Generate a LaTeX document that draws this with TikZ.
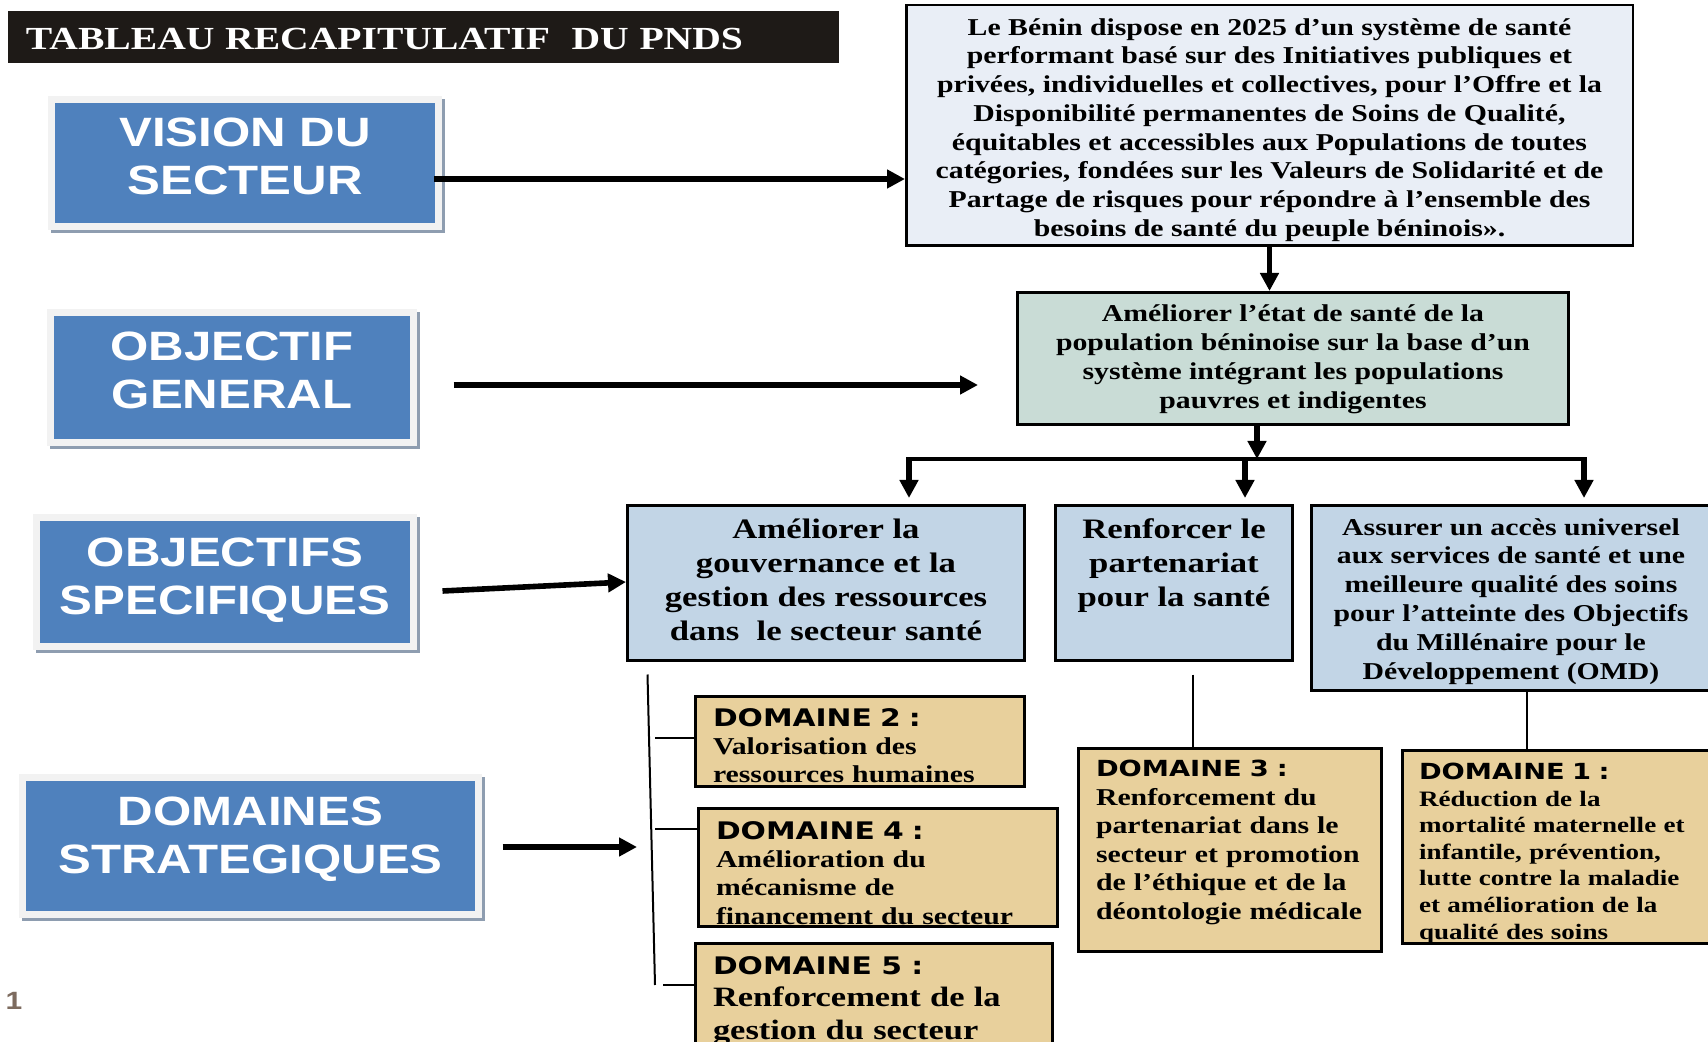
\documentclass[tikz,border=0pt]{standalone}
\usepackage{fontspec}
\usetikzlibrary{arrows.meta,calc,shadows}
\newfontfamily\txtfont{Liberation Serif}[FakeStretch=1.23]
\newfontfamily\lblfont{Liberation Sans}[FakeStretch=1.2]
\newfontfamily\domfont{DejaVu Sans}[FakeStretch=1.23]
\definecolor{titlebg}{HTML}{1E1A17}
\definecolor{lblblue}{HTML}{4F81BD}
\definecolor{lblframe}{HTML}{F2F2F2}
\definecolor{lblshadow}{HTML}{8E9DB0}
\definecolor{visionbg}{HTML}{E9EEF6}
\definecolor{generalbg}{HTML}{C9DCD6}
\definecolor{specbg}{HTML}{C2D5E6}
\definecolor{domainbg}{HTML}{E8D09C}
\definecolor{pagenum}{HTML}{7D6B5F}
\newcommand{\padbelow}[1]{\rule[-#1]{0pt}{0pt}}
\newcommand{\padabove}[1]{\rule{0pt}{\dimexpr\fontcharht\font`é+#1\relax}}
\newcommand{\domhead}[3][12.1]{{\domfont\bfseries\fontsize{#1}{14}\selectfont\rule{0pt}{\dimexpr\fontcharht\font`D+#3\relax}DOMAINE #2 :}}
\begin{document}
\begin{tikzpicture}[x=0.5pt,y=0.5pt,yscale=-1,xscale=1,
  lbl/.style={fill=lblblue,draw=lblframe,line width=3.5pt,inner sep=0pt,align=center,text=white,
    font=\lblfont\bfseries\fontsize{20.5}{24}\selectfont,
    drop shadow={shadow xshift=1.5pt,shadow yshift=-1.5pt,fill=lblshadow,draw=lblshadow,line width=3.5pt,opacity=1}},
  box/.style={draw=black,line width=1.5pt,inner sep=0pt,align=center,font=\txtfont\bfseries\fontsize{12.1}{14.35}\selectfont},
  dom/.style={box,fill=domainbg,align=left,execute at begin node={\leftskip=8.75pt\relax}},
  bigarrow/.style={line width=2.8pt,-{Triangle[length=9pt,width=9pt]}},
  link/.style={line width=1pt}]
\useasboundingbox (0,0) rectangle (1708,1042);
\clip (0,0) rectangle (1708,1042);
\node[fill=titlebg,text=white,inner sep=0pt,minimum height=26pt,text width=415.5pt,align=left,
  font=\txtfont\bfseries\fontsize{16.1}{18}\selectfont,execute at begin node={\leftskip=9pt\relax}] (title) at (423.5,37) {\padabove{1.6pt}TABLEAU RECAPITULATIF~ DU PNDS};
\node[lbl,minimum width=193.5pt,minimum height=63.5pt] (vision) at (245,163) {VISION DU\\SECTEUR\padbelow{7pt}};
\node[lbl,minimum width=181.5pt,minimum height=65pt] (general) at (232,377.5) {OBJECTIF\\GENERAL\padbelow{6.9pt}};
\node[lbl,minimum width=188.5pt,minimum height=64.5pt] (specific) at (225,582) {OBJECTIFS\\SPECIFIQUES\padbelow{6.3pt}};
\node[lbl,minimum width=228pt,minimum height=68.5pt] (domains) at (250.5,846) {DOMAINES\\STRATEGIQUES\padbelow{11pt}};
\node[box,fill=visionbg,line width=1.25pt,minimum width=363.25pt,minimum height=120.25pt] (visiontxt) at (1269.5,125.5) {\padabove{4.4pt}Le Bénin dispose en 2025 d’un système de santé\\performant basé sur des Initiatives publiques et\\privées, individuelles et collectives, pour l’Offre et la\\Disponibilité permanentes de Soins de Qualité,\\équitables et accessibles aux Populations de toutes\\catégories, fondées sur les Valeurs de Solidarité et de\\Partage de risques pour répondre à l’ensemble des\\besoins de santé du peuple béninois».};
\node[box,fill=generalbg,minimum width=275.5pt,minimum height=66pt,font=\txtfont\bfseries\fontsize{12.1}{14.5}\selectfont] (generaltxt) at (1293,358.5) {\padabove{1pt}Améliorer l’état de santé de la\\population béninoise sur la base d’un\\système intégrant les populations\\pauvres et indigentes};
\node[box,fill=specbg,minimum width=198.5pt,minimum height=77.5pt,font=\txtfont\bfseries\fontsize{14.1}{17}\selectfont] (spec1) at (826,583) {Améliorer la\\gouvernance et la\\gestion des ressources\\dans~ le secteur santé\padbelow{3pt}};
\node[box,fill=specbg,minimum width=118.5pt,minimum height=77.5pt,font=\txtfont\bfseries\fontsize{14.1}{17}\selectfont] (spec2) at (1174,583) {Renforcer le\\partenariat\\pour la santé\padbelow{20pt}};
\node[box,fill=specbg,minimum width=199.5pt,minimum height=92.5pt,font=\txtfont\bfseries\fontsize{12.1}{14.4}\selectfont] (spec3) at (1511,598) {\padabove{3.3pt}Assurer un accès universel\\aux services de santé et une\\meilleure qualité des soins\\pour l’atteinte des Objectifs\\du Millénaire pour le\\Développement (OMD)};
\node[dom,text width=164.5pt,minimum height=45pt,font=\txtfont\bfseries\fontsize{12.1}{14.15}\selectfont] (dom2) at (860,741.5) {\domhead{2}{4.4pt}\\Valorisation des\\ressources humaines};
\node[dom,text width=179.5pt,minimum height=59pt,font=\txtfont\bfseries\fontsize{12.1}{14.15}\selectfont] (dom4) at (878,867.5) {\domhead{4}{5.5pt}\\Amélioration du\\mécanisme de\\financement du secteur};
\node[dom,text width=178.5pt,minimum height=58.5pt,font=\txtfont\bfseries\fontsize{14}{16.25}\selectfont] (dom5) at (874,1002) {\domhead{5}{2.2pt}\\Renforcement de la\\gestion du secteur\padbelow{6.5pt}};
\node[dom,text width=151.5pt,minimum height=101.5pt,font=\txtfont\bfseries\fontsize{12.1}{14.3}\selectfont] (dom3) at (1230,850) {\domhead[11.1]{3}{1pt}\\Renforcement du\\partenariat dans le\\secteur et promotion\\de l’éthique et de la\\déontologie médicale\padbelow{11pt}};
\node[dom,text width=154pt,minimum height=94.5pt,font=\txtfont\bfseries\fontsize{11}{13.3}\selectfont,execute at begin node={\leftskip=8.25pt\relax}] (dom1) at (1556.5,847) {\domhead[11.1]{1}{6.5pt}\\Réduction de la\\mortalité maternelle et\\infantile, prévention,\\lutte contre la maladie\\et amélioration de la\\qualité des soins};
\node[text=pagenum,font=\lblfont\bfseries\fontsize{12.5}{14}\selectfont,inner sep=0pt] (pgno) at (14,1001) {1};
\coordinate (va) at ($(vision.east)+(-8,16)$);
\draw[bigarrow] (va) -- (va -| visiontxt.west);
\coordinate (ga) at ($(general.east)+(0,7.5)$);
\draw[bigarrow,shorten <=18.25pt,shorten >=19pt] (ga) -- (ga -| generaltxt.west);
\coordinate (sa) at ($(specific.east)+(25.5,9)$);
\draw[bigarrow] (sa) -- ($(spec1.west)+(0,-1)$);
\coordinate (da) at ($(domains.east)+(20.5,1)$);
\coordinate (dtip) at (637,847);
\draw[bigarrow] (da) -- (dtip);
\draw[bigarrow] (visiontxt.south) -- (visiontxt.south |- generaltxt.north);
\coordinate (busL) at (909,459);
\coordinate (busM) at (1245,459);
\coordinate (busR) at (1584,459);
\coordinate (gs) at ($(generaltxt.south)+(-36,0)$);
\draw[line width=1.6pt,shorten <=-1.4pt,shorten >=-1.4pt] (busL) -- (busR);
\draw[bigarrow] (gs) -- (gs |- busL);
\draw[bigarrow,shorten >=3pt] (busL) -- (busL |- spec1.north);
\draw[bigarrow,shorten >=3pt] (busM) -- (busM |- spec2.north);
\draw[bigarrow,shorten >=3pt] (busR) -- (busR |- spec3.north);
\coordinate (brtop) at ($(spec1.south west)+(21.5,12.5)$);
\coordinate (brbot) at (655,985);
\draw[link] (brtop) -- (brbot);
\coordinate (tk2) at (655,738);
\coordinate (tk4) at (655,829);
\coordinate (tk5) at (663,985);
\draw[link] (tk2) -- (tk2 -| dom2.west);
\draw[link] (tk4) -- (tk4 -| dom4.west);
\draw[link] (tk5) -- (tk5 -| dom5.west);
\coordinate (tk3) at ($(spec2.south)+(19,12.5)$);
\draw[link] (tk3) -- (tk3 |- dom3.north);
\coordinate (tk1) at ($(spec3.south)+(16,0)$);
\draw[link] (tk1) -- (tk1 |- dom1.north);
\end{tikzpicture}
\end{document}
